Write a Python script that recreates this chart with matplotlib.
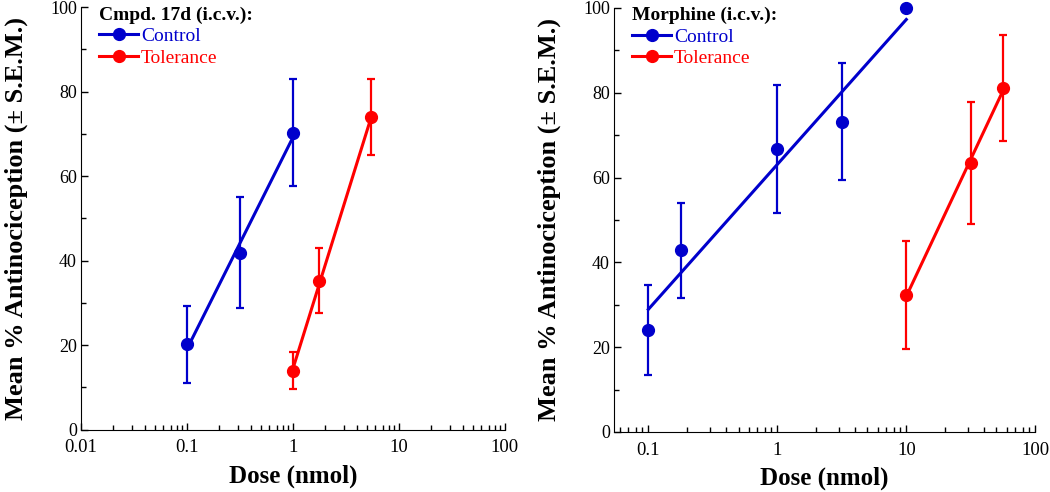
import numpy as np
import matplotlib
matplotlib.use("Agg")
import matplotlib.pyplot as plt
from matplotlib.lines import Line2D
from matplotlib.ticker import LogLocator, FixedLocator, FixedFormatter, MultipleLocator, NullFormatter

plt.rcParams['font.family'] = ['Liberation Serif', 'DejaVu Serif']

# Cmpd. 17d (i.c.v.)
cmpd_ctrl_dose = [0.1, 0.316, 1.0]
cmpd_ctrl_mean = [20.2, 41.9, 70.3]
cmpd_ctrl_sem = [9.1, 13.2, 12.6]
cmpd_tol_dose = [1.0, 1.78, 5.5]
cmpd_tol_mean = [14.0, 35.3, 73.9]
cmpd_tol_sem = [4.3, 7.8, 9.0]

# Morphine (i.c.v.)
morph_ctrl_dose = [0.1, 0.178, 1.0, 3.16, 10.0]
morph_ctrl_mean = [24.1, 42.9, 66.7, 73.2, 100.0]
morph_ctrl_sem = [10.6, 11.2, 15.0, 13.7, 0.0]
morph_tol_dose = [10.0, 31.6, 56.2]
morph_tol_mean = [32.3, 63.4, 81.1]
morph_tol_sem = [12.7, 14.4, 12.5]

BLUE = '#0000cc'
RED = '#ff0000'


def draw_series(ax, dose, mean, sem, color):
    dose = np.array(dose)
    mean = np.array(mean)
    # linear regression on log dose
    b, a = np.polyfit(np.log10(dose), mean, 1)
    xs = np.array([dose.min(), dose.max()])
    ax.plot(xs, a + b * np.log10(xs), color=color, lw=2.2, zorder=2)
    ax.errorbar(dose, mean, yerr=sem, fmt='none', ecolor=color, elinewidth=1.6,
                capsize=3, capthick=1.6, zorder=3)
    ax.plot(dose, mean, 'o', color=color, ms=8.5, zorder=4, clip_on=False)


def style_axes(ax, title, xlim, xticks, xlabels):
    ax.set_xscale('log')
    ax.set_xlim(*xlim)
    ax.set_ylim(0, 100)
    for s in ['top', 'right']:
        ax.spines[s].set_visible(False)
    ax.xaxis.set_major_locator(FixedLocator(xticks))
    ax.xaxis.set_major_formatter(FixedFormatter(xlabels))
    ax.xaxis.set_minor_locator(LogLocator(base=10, subs=np.arange(2, 10)))
    ax.xaxis.set_minor_formatter(NullFormatter())
    ax.yaxis.set_major_locator(MultipleLocator(20))
    ax.yaxis.set_minor_locator(MultipleLocator(10))
    ax.tick_params(which='both', direction='in', width=1)
    ax.tick_params(axis='y', pad=3, labelsize=13)
    ax.tick_params(axis='x', pad=7, labelsize=13.5)
    ax.tick_params(which='major', length=5)
    ax.tick_params(which='minor', length=3.5)
    ax.set_xlabel('Dose (nmol)', fontsize=18, fontweight='bold', labelpad=6)
    ax.set_ylabel('Mean % Antinociception (\u00b1 S.E.M.)', fontsize=19,
                  fontweight='bold', labelpad=16)
    handles = [Line2D([], [], color=BLUE, lw=2.2, marker='o', ms=8.5),
               Line2D([], [], color=RED, lw=2.2, marker='o', ms=8.5)]
    ax.legend(handles, ['Control', 'Tolerance'], loc='upper left',
              bbox_to_anchor=(0.02, 1.025), frameon=False, fontsize=14,
              title=title, title_fontproperties={'weight': 'bold', 'size': 14},
              alignment='left', handlelength=2.0, handletextpad=0.15,
              labelspacing=0.2, borderpad=0, labelcolor=[BLUE, RED])


fig = plt.figure(figsize=(10.5, 4.92), dpi=100)
ax1 = fig.add_axes([0.0771, 0.1266, 0.4038, 0.859])
ax2 = fig.add_axes([0.5848, 0.122, 0.4012, 0.862])

draw_series(ax1, cmpd_ctrl_dose, cmpd_ctrl_mean, cmpd_ctrl_sem, BLUE)
draw_series(ax1, cmpd_tol_dose, cmpd_tol_mean, cmpd_tol_sem, RED)
style_axes(ax1, 'Cmpd. 17d (i.c.v.):', (0.01, 100),
           [0.01, 0.1, 1, 10, 100], ['0.01', '0.1', '1', '10', '100'])

draw_series(ax2, morph_ctrl_dose, morph_ctrl_mean, morph_ctrl_sem, BLUE)
draw_series(ax2, morph_tol_dose, morph_tol_mean, morph_tol_sem, RED)
style_axes(ax2, 'Morphine (i.c.v.):', (0.0542, 100),
           [0.1, 1, 10, 100], ['0.1', '1', '10', '100'])

fig.savefig('out.png', dpi=100)
